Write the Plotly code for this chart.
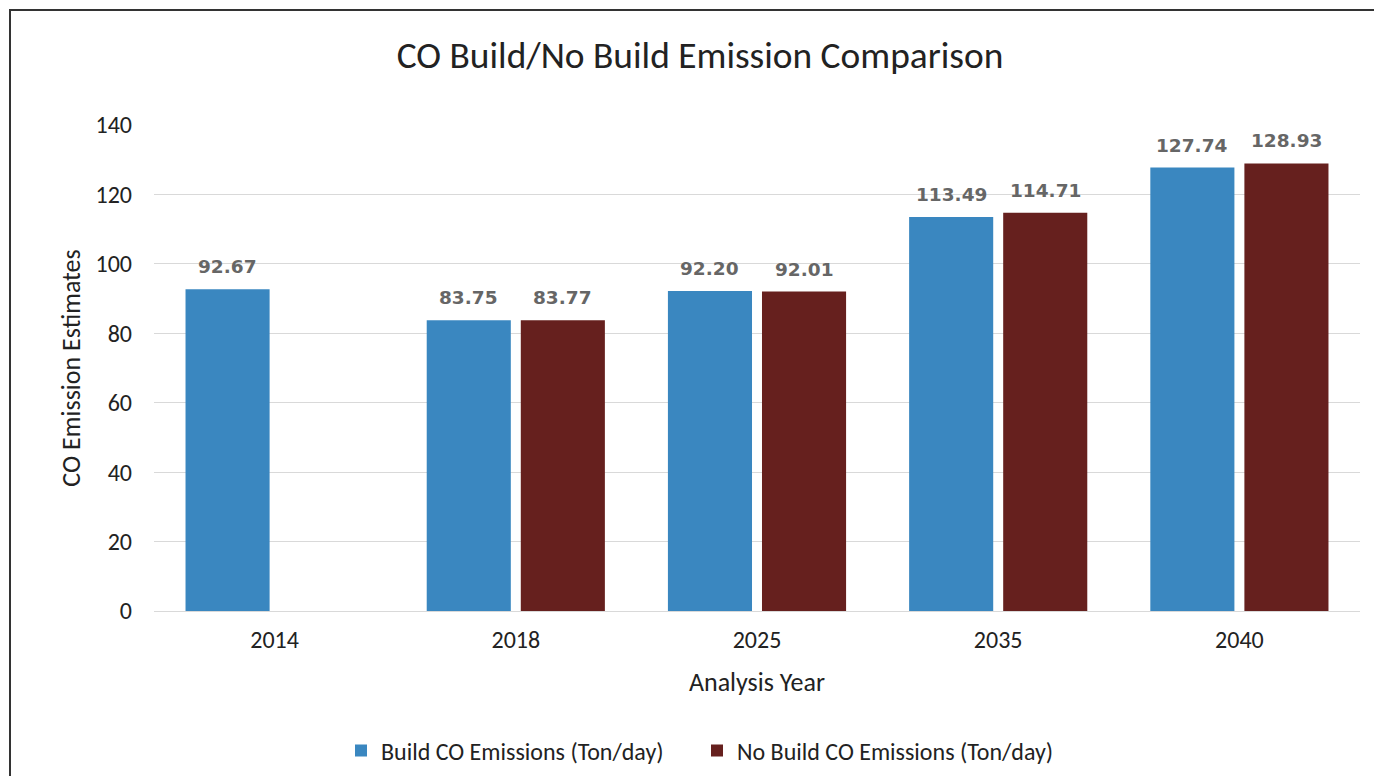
import plotly.graph_objects as go

years = ["2014", "2018", "2025", "2035", "2040"]
build = [92.67, 83.75, 92.20, 113.49, 127.74]
no_build = [None, 83.77, 92.01, 114.71, 128.93]
build_name = "Build CO Emissions (Ton/day)"
no_build_name = "No Build CO Emissions (Ton/day)"
title_text = "CO Build/No Build Emission Comparison"
x_title = "Analysis Year"
y_title = "CO Emission Estimates"
y_ticks = [0, 20, 40, 60, 80, 100, 120, 140]

# page body adds an 8px margin, so the figure is sized/placed accordingly
W, H = 1366, 768
ML, MR, MT, MB = 146, 14, 117, 165
FONT = "Carlito, Lato, sans-serif"
BLUE = "#3A87C0"
RED = "#66201E"
BARGAP = 0.22
GROUPGAP = 0.106

pos = list(range(len(years)))  # category slots

fig = go.Figure()
fig.add_trace(go.Bar(x=pos, y=build, name=build_name, marker_color=BLUE,
                     marker_line_width=0))
fig.add_trace(go.Bar(x=pos, y=no_build, name=no_build_name, marker_color=RED,
                     marker_line_width=0))

# data labels above bars (offset matches grouped bar slot)
pw = W - ML - MR
ph = H - MT - MB
slot_px = pw / len(years) * (1 - BARGAP) / 2
for vals, sign in ((build, -1), (no_build, 1)):
    for p, v in zip(pos, vals):
        if v is None:
            continue
        fig.add_annotation(x=p, y=v, text=f"{v:.2f}", showarrow=False,
                           xshift=sign * slot_px / 2, yshift=10, yanchor="bottom",
                           font=dict(family="DejaVu Sans", size=18.5, color="#666666",
                                     weight="bold"))

# outer chart border
fig.add_shape(type="rect", xref="paper", yref="paper",
              x0=(2 - ML) / pw, x1=(W + 30 - ML) / pw,
              y0=-(MB + 40) / ph, y1=1 + (MT - 2) / ph,
              line=dict(color="#333333", width=2), layer="below")

fig.update_layout(
    width=W, height=H,
    margin=dict(l=ML, r=MR, t=MT, b=MB),
    paper_bgcolor="white", plot_bgcolor="white",
    barmode="group", bargap=BARGAP, bargroupgap=GROUPGAP,
    title=dict(text=title_text, x=692 / W, xref="container", xanchor="center",
               y=1 - 47 / H, yref="container", yanchor="middle",
               font=dict(family=FONT, size=37.4, color="#222222")),
    font=dict(family=FONT, color="#222222"),
    legend=dict(orientation="h", x=689 / W, xref="container", xanchor="center",
                y=1 - 743 / H, yref="container", yanchor="middle",
                font=dict(family=FONT, size=24, color="#222222"),
                itemwidth=30, traceorder="normal", entrywidth=311),
    xaxis=dict(tickmode="array", tickvals=pos, ticktext=years,
               range=[-0.5, len(years) - 0.5],
               title=dict(text=x_title, font=dict(family=FONT, size=26), standoff=19),
               tickfont=dict(family=FONT, size=24), showgrid=False, zeroline=False,
               showline=False, ticks="", ticklabelstandoff=12),
    yaxis=dict(title=dict(text=y_title, font=dict(family=FONT, size=26), standoff=7),
               range=[0, 140], tickvals=y_ticks, tickfont=dict(family=FONT, size=24),
               showgrid=True, gridcolor="#D9D9D9", gridwidth=1,
               zeroline=True, zerolinecolor="#D9D9D9", zerolinewidth=1,
               showline=False, ticks="", ticklabelstandoff=21),
)

fig.write_html("out.html")
